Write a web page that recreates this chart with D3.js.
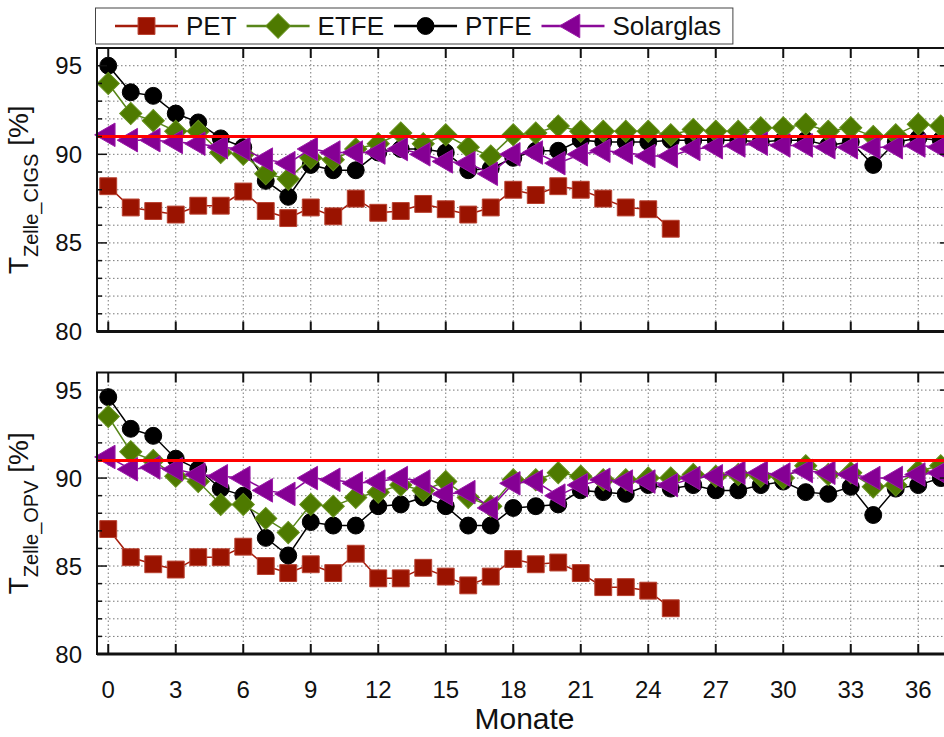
<!DOCTYPE html>
<html>
<head>
<meta charset="utf-8">
<script src="https://cdn.jsdelivr.net/npm/d3@7/dist/d3.min.js"></script>
<style>
  body { margin: 0; background: #fff; }
  svg { display: block; font-family: "Liberation Sans", Arial, sans-serif; }
</style>
</head>
<body>
<div id="chart"></div>
<script>
// months on the x axis (PET stops after month 25)
const MONTHS = [0, 1, 2, 3, 4, 5, 6, 7, 8, 9, 10, 11, 12, 13, 14, 15, 16, 17, 18, 19,
  20, 21, 22, 23, 24, 25, 26, 27, 28, 29, 30, 31, 32, 33, 34, 35, 36, 37];

// upper panel: T Zelle_CIGS [%]
const PET_CIGS = [88.2, 87.0, 86.8, 86.6, 87.1, 87.1, 87.9, 86.8, 86.4, 87.0, 86.5, 87.5, 86.7,
  86.8, 87.2, 86.9, 86.6, 87.0, 88.0, 87.7, 88.2, 88.0, 87.5, 87.0, 86.9, 85.8];
const ETFE_CIGS = [94.0, 92.3, 91.9, 91.3, 91.3, 90.1, 90.0, 88.9, 88.6, 89.8, 89.7, 90.3, 90.6,
  91.2, 90.6, 91.1, 90.4, 89.9, 91.1, 91.2, 91.6, 91.3, 91.3, 91.3, 91.3, 91.1, 91.4, 91.3, 91.3,
  91.5, 91.5, 91.7, 91.3, 91.5, 91.0, 91.1, 91.7, 91.6];
const PTFE_CIGS = [95.0, 93.5, 93.3, 92.3, 91.8, 90.9, 90.4, 88.5, 87.6, 89.4, 89.1, 89.1, 90.1,
  90.3, 90.3, 90.1, 89.1, 89.2, 89.8, 90.2, 90.2, 90.8, 90.7, 90.7, 90.7, 90.8, 90.8, 90.8, 90.8,
  90.7, 90.8, 90.8, 90.5, 90.7, 89.4, 90.7, 90.9, 90.8];
const SOLAR_CIGS = [91.1, 90.8, 90.8, 90.7, 90.6, 90.4, 90.3, 89.7, 89.5, 90.3, 90.1, 90.1, 90.1,
  90.3, 90.0, 89.6, 89.5, 88.9, 90.0, 90.1, 89.5, 90.0, 90.2, 90.1, 89.9, 89.9, 90.3, 90.4, 90.5,
  90.6, 90.5, 90.5, 90.4, 90.4, 90.4, 90.4, 90.5, 90.4];

// lower panel: T Zelle_OPV [%]
const PET_OPV = [87.1, 85.5, 85.1, 84.8, 85.5, 85.5, 86.1, 85.0, 84.6, 85.1, 84.6, 85.7, 84.3,
  84.3, 84.9, 84.4, 83.9, 84.4, 85.4, 85.1, 85.2, 84.6, 83.8, 83.8, 83.6, 82.6];
const ETFE_OPV = [93.5, 91.5, 91.0, 90.1, 89.8, 88.5, 88.5, 87.7, 86.9, 88.5, 88.4, 88.9, 89.2,
  89.6, 89.3, 89.8, 88.9, 88.4, 89.9, 89.9, 90.3, 90.1, 89.9, 89.9, 90.0, 90.0, 90.2, 90.1, 90.2,
  90.1, 90.0, 90.7, 90.2, 90.3, 89.5, 89.6, 90.4, 90.7];
const PTFE_OPV = [94.6, 92.8, 92.4, 91.1, 90.5, 89.4, 89.0, 86.6, 85.6, 87.5, 87.3, 87.3, 88.4,
  88.5, 88.9, 88.4, 87.3, 87.3, 88.3, 88.4, 88.5, 89.3, 89.2, 89.1, 89.6, 89.4, 89.6, 89.3, 89.3,
  89.6, 89.8, 89.2, 89.1, 89.5, 87.9, 89.4, 89.6, 90.0];
const SOLAR_OPV = [91.2, 90.5, 90.6, 90.5, 90.2, 90.1, 90.0, 89.3, 89.1, 90.0, 89.9, 89.7, 89.8,
  90.0, 89.8, 89.1, 89.2, 88.3, 89.7, 89.8, 89.0, 89.6, 89.9, 89.8, 89.8, 89.6, 90.0, 90.1, 90.3,
  90.3, 90.2, 90.4, 90.3, 90.2, 90.0, 90.0, 90.2, 90.3];

const X_TICKS = [0, 3, 6, 9, 12, 15, 18, 21, 24, 27, 30, 33, 36];
const Y_TICKS = [80, 85, 90, 95];
const Y_GRID = [81, 82, 83, 84, 85, 86, 87, 88, 89, 90, 91, 92, 93, 94, 95];
const REF_LEVEL = 91;

const LEGEND_ORDER = ['PET', 'ETFE', 'PTFE', 'Solarglas'];
const DRAW_ORDER = ['PET', 'PTFE', 'ETFE', 'Solarglas'];

const STYLE = {
  PET:       { fill: '#9a1300', stroke: '#b8402f', line: '#a51d0c', symbol: d3.symbolSquare, size: 285, rot: 0 },
  ETFE:      { fill: '#4e7a00', stroke: '#64901a', line: '#58861a', symbol: d3.symbolSquare, size: 245, rot: 45 },
  PTFE:      { fill: '#000000', stroke: '#000000', line: '#000000', symbol: d3.symbolCircle, size: 225, rot: 0 },
  Solarglas: { fill: '#850094', stroke: '#9a1aa8', line: '#8a0a99', symbol: d3.symbolTriangle, size: 240, rot: -90 }
};

const W = 944, H = 737;
const X_DOMAIN = [-0.5, 37.4];
const X_RANGE = [97, 949.75];
const Y_DOMAIN = [80, 96];

const svg = d3.select('#chart').append('svg').attr('width', W).attr('height', H);

const x = d3.scaleLinear().domain(X_DOMAIN).range(X_RANGE);

function drawPanel(top, bottom, data, sub, withLabels) {
  const y = d3.scaleLinear().domain(Y_DOMAIN).range([bottom, top]);
  const g = svg.append('g');

  // dotted grid
  g.selectAll('line.hg').data(Y_GRID).join('line')
    .attr('x1', X_RANGE[0]).attr('x2', X_RANGE[1])
    .attr('y1', (d) => y(d)).attr('y2', (d) => y(d))
    .attr('stroke', '#777').attr('stroke-width', 1).attr('stroke-dasharray', '1.5,2.5');
  g.selectAll('line.vg').data(X_TICKS).join('line')
    .attr('x1', (d) => x(d)).attr('x2', (d) => x(d))
    .attr('y1', top).attr('y2', bottom)
    .attr('stroke', '#777').attr('stroke-width', 1).attr('stroke-dasharray', '1.5,2.5');

  // series
  const line = d3.line().x((d) => x(d[0])).y((d) => y(d[1]));
  for (const key of DRAW_ORDER) {
    const s = STYLE[key];
    const pts = data[key].map((v, i) => [MONTHS[i], v]);
    g.append('path')
      .datum(pts)
      .attr('d', line)
      .attr('fill', 'none')
      .attr('stroke', s.line)
      .attr('stroke-width', 1.5);
    g.selectAll(null).data(pts).join('path')
      .attr('d', d3.symbol(s.symbol, s.size))
      .attr('transform', (d) => `translate(${x(d[0])},${y(d[1])}) rotate(${s.rot})`)
      .attr('fill', s.fill)
      .attr('stroke', s.stroke)
      .attr('stroke-width', 1);
  }

  // reference line
  g.append('line')
    .attr('x1', X_RANGE[0]).attr('x2', X_RANGE[1])
    .attr('y1', y(REF_LEVEL)).attr('y2', y(REF_LEVEL))
    .attr('stroke', '#ff0000').attr('stroke-width', 3);

  // frame
  g.append('rect')
    .attr('x', X_RANGE[0]).attr('y', top)
    .attr('width', X_RANGE[1] - X_RANGE[0]).attr('height', bottom - top)
    .attr('fill', 'none').attr('stroke', '#111').attr('stroke-width', 2);
  g.append('line')
    .attr('x1', X_RANGE[0]).attr('x2', X_RANGE[1])
    .attr('y1', bottom).attr('y2', bottom)
    .attr('stroke', '#111').attr('stroke-width', 3);

  // inward ticks
  for (const v of X_TICKS) {
    g.append('line').attr('x1', x(v)).attr('x2', x(v)).attr('y1', top).attr('y2', top + 10)
      .attr('stroke', '#111').attr('stroke-width', 2);
    g.append('line').attr('x1', x(v)).attr('x2', x(v)).attr('y1', bottom).attr('y2', bottom - 10)
      .attr('stroke', '#111').attr('stroke-width', 2);
  }
  for (const v of Y_GRID) {
    const len = Y_TICKS.includes(v) ? 10 : 5;
    g.append('line').attr('x1', X_RANGE[0]).attr('x2', X_RANGE[0] + len)
      .attr('y1', y(v)).attr('y2', y(v)).attr('stroke', '#111').attr('stroke-width', 1.5);
    g.append('line').attr('x1', X_RANGE[1]).attr('x2', X_RANGE[1] - len)
      .attr('y1', y(v)).attr('y2', y(v)).attr('stroke', '#111').attr('stroke-width', 1.5);
  }

  // y tick labels
  g.selectAll('text.yl').data(Y_TICKS).join('text')
    .attr('x', 82).attr('y', (d) => y(d) + 8.5)
    .attr('text-anchor', 'end').attr('font-size', '24px').attr('fill', '#111')
    .text((d) => d);

  // y title
  const mid = (top + bottom) / 2;
  const t = g.append('text')
    .attr('transform', `translate(28,${mid}) rotate(-90)`)
    .attr('text-anchor', 'middle').attr('font-size', '28px').attr('fill', '#111');
  t.append('tspan').text('T');
  t.append('tspan').attr('font-size', '20px').attr('dy', 10).text(sub);
  t.append('tspan').attr('dy', -10).text(' [%]');

  if (withLabels) {
    g.selectAll('text.xl').data(X_TICKS).join('text')
      .attr('x', (d) => x(d)).attr('y', bottom + 44)
      .attr('text-anchor', 'middle').attr('font-size', '24px').attr('fill', '#111')
      .text((d) => d);
    g.append('text')
      .attr('x', x(18.5)).attr('y', bottom + 75)
      .attr('text-anchor', 'middle').attr('font-size', '30px').attr('fill', '#111')
      .text('Monate');
  }
}

drawPanel(48, 331.5,
  { PET: PET_CIGS, ETFE: ETFE_CIGS, PTFE: PTFE_CIGS, Solarglas: SOLAR_CIGS }, 'Zelle_CIGS', false);
drawPanel(372.5, 654,
  { PET: PET_OPV, ETFE: ETFE_OPV, PTFE: PTFE_OPV, Solarglas: SOLAR_OPV }, 'Zelle_OPV', true);

// legend
const leg = svg.append('g');
const box = leg.append('rect')
  .attr('x', 95.5).attr('y', 8).attr('height', 36)
  .attr('fill', '#fff').attr('stroke', '#444').attr('stroke-width', 1);
let lx = 115;
const ly = 26;
for (const key of LEGEND_ORDER) {
  const s = STYLE[key];
  leg.append('line').attr('x1', lx).attr('x2', lx + 63).attr('y1', ly).attr('y2', ly)
    .attr('stroke', s.line).attr('stroke-width', 2.5);
  leg.append('path')
    .attr('d', d3.symbol(s.symbol, key === 'ETFE' ? 300 : s.size))
    .attr('transform', `translate(${lx + 31.5},${ly}) rotate(${s.rot})`)
    .attr('fill', s.fill).attr('stroke', s.stroke).attr('stroke-width', 1);
  const txt = leg.append('text')
    .attr('x', lx + 71).attr('y', ly + 9)
    .attr('font-size', '26px').attr('fill', '#111')
    .text(key);
  lx = lx + 71 + txt.node().getComputedTextLength() + 10;
}
box.attr('width', lx - 95.5 + 2);
</script>
</body>
</html>
